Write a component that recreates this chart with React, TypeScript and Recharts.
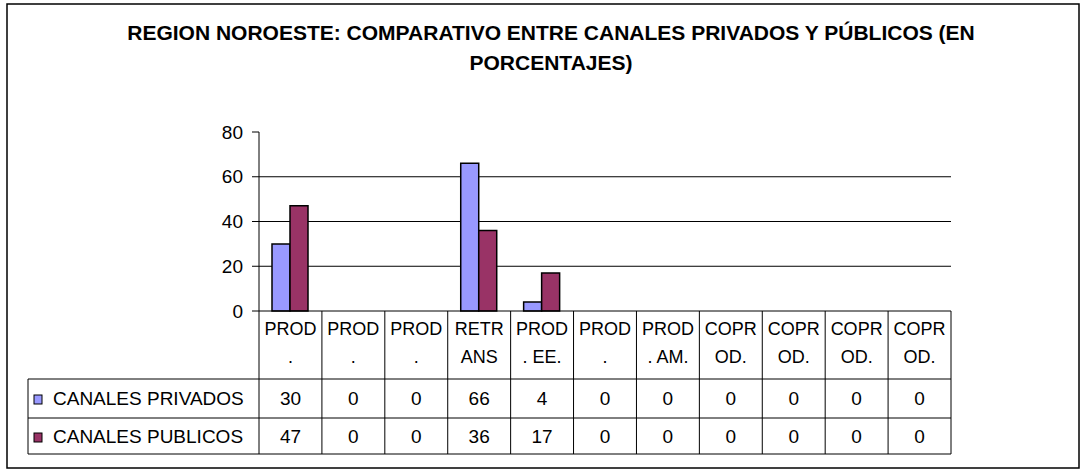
import { BarChart, Bar, XAxis, YAxis, CartesianGrid } from 'recharts';

const FONT = '"Liberation Sans", Arial, sans-serif';

const title = 'REGION NOROESTE: COMPARATIVO ENTRE CANALES PRIVADOS Y PÚBLICOS (EN PORCENTAJES)';

const categories = [
  'PROD.', 'PROD.', 'PROD.', 'RETRANS', 'PROD. EE.', 'PROD.',
  'PROD. AM.', 'COPROD.', 'COPROD.', 'COPROD.', 'COPROD.',
];
const privados = [30, 0, 0, 66, 4, 0, 0, 0, 0, 0, 0];
const publicos = [47, 0, 0, 36, 17, 0, 0, 0, 0, 0, 0];
const yTicks = [0, 20, 40, 60, 80];

const series = [
  { key: 'privados', name: 'CANALES PRIVADOS', color: '#9999FF', values: privados },
  { key: 'publicos', name: 'CANALES PUBLICOS', color: '#993366', values: publicos },
];

const data = categories.map((c, i) => ({
  id: `c${i}`,
  privados: privados[i],
  publicos: publicos[i],
}));

// excel wraps the narrow column labels after 4 characters
const wrapLabel = (s: string) => [s.slice(0, 4), s.slice(4).replace(/^ /, '')];

const LEGEND_W = 231;

function TableTick(props: any) {
  const { x, y, payload, index, width } = props;
  const half = payload?.offset || width / categories.length / 2;
  const left = x - half;
  const right = x + half;
  const [l1, l2] = wrapLabel(categories[index]);
  const rows = [y + 68, y + 107, y + 143];
  const txt = { fontFamily: FONT, fill: '#000', textAnchor: 'middle' as const };

  return (
    <g>
      <line x1={left} y1={y} x2={left} y2={rows[2]} stroke="#000" />
      {index === categories.length - 1 && (
        <line x1={right} y1={y} x2={right} y2={rows[2]} stroke="#000" />
      )}
      <text x={x} y={y + 24} fontSize={18} {...txt}>{l1}</text>
      <text x={x} y={y + 52} fontSize={18} {...txt}>{l2}</text>
      {series.map((s, r) => (
        <text key={s.key} x={x} y={y + 94 + r * 38} fontSize={19} {...txt}>
          {s.values[index]}
        </text>
      ))}
      {index === 0 && (
        <g>
          {rows.map((ry) => (
            <line key={ry} x1={left - LEGEND_W} y1={ry} x2={left + width} y2={ry} stroke="#000" />
          ))}
          <line x1={left - LEGEND_W} y1={rows[0]} x2={left - LEGEND_W} y2={rows[2]} stroke="#000" />
          {series.map((s, r) => (
            <g key={s.key}>
              <rect x={left - LEGEND_W + 6} y={y + 84 + r * 38} width={8} height={9} fill={s.color} stroke="#000" />
              <text x={left - LEGEND_W + 25} y={y + 94 + r * 38} fontSize={19} fontFamily={FONT} fill="#000">
                {s.name}
              </text>
            </g>
          ))}
        </g>
      )}
    </g>
  );
}

export default function App() {
  const words = title.split(' ');
  const line1 = words.slice(0, -1).join(' ');
  const line2 = words[words.length - 1];
  return (
    <div style={{ position: 'absolute', left: 0, top: 0, width: 1082, height: 470, background: '#fff' }}>
      <BarChart
        width={1082}
        height={470}
        data={data}
        margin={{ top: 132, right: 131, bottom: 9, left: 199 }}
        barGap={0}
        barSize={18}
      >
        <CartesianGrid vertical={false} stroke="#000" horizontalValues={[20, 40, 60]} />
        <XAxis
          dataKey="id"
          height={150}
          axisLine={{ stroke: '#000' }}
          tickLine={false}
          tickSize={0}
          tickMargin={0}
          interval={0}
          tick={<TableTick />}
        />
        <XAxis xAxisId="top" orientation="top" height={0} tick={false} tickLine={false} axisLine={{ stroke: '#808080' }} />
        <YAxis
          domain={[0, 80]}
          ticks={yTicks}
          width={60}
          tickSize={7}
          tickMargin={9}
          axisLine={{ stroke: '#000' }}
          tickLine={{ stroke: '#000' }}
          tick={{ fontSize: 19, fill: '#000', fontFamily: FONT }}
        />
        <YAxis yAxisId="right" orientation="right" width={0} tick={false} tickLine={false} axisLine={{ stroke: '#808080' }} />
        {series.map((s) => (
          <Bar
            key={s.key}
            dataKey={s.key}
            name={s.name}
            fill={s.color}
            stroke="#000"
            strokeWidth={1.5}
            isAnimationActive={false}
          />
        ))}
      </BarChart>
      <svg
        width={1082}
        height={470}
        style={{ position: 'absolute', left: 0, top: 0, pointerEvents: 'none' }}
      >
        <rect x={7} y={4} width={1072} height={464} fill="none" stroke="#000" strokeWidth={1.5} />
        <text x={551} y={40} textAnchor="middle" fontSize={21} fontWeight="bold" fontFamily={FONT} fill="#000">
          {line1}
        </text>
        <text x={551} y={70} textAnchor="middle" fontSize={21} fontWeight="bold" fontFamily={FONT} fill="#000">
          {line2}
        </text>
      </svg>
    </div>
  );
}
